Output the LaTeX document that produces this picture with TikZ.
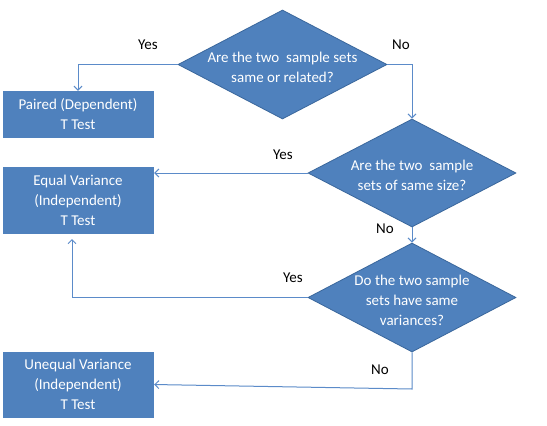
\documentclass[tikz,border=0pt]{standalone}
\usepackage{fontspec}
\setmainfont{Carlito}
\usetikzlibrary{shapes.geometric,arrows.meta}
\definecolor{boxfill}{HTML}{4F81BD}
\definecolor{boxline}{HTML}{3A679C}
\definecolor{conn}{HTML}{5B8BC9}
\tikzset{
  txt/.style={font=\fontsize{15}{20}\selectfont, text=white, align=center},
  resultbox/.style={txt, rectangle, fill=boxfill, draw=boxfill, minimum width=150pt, inner sep=0pt},
  question/.style={diamond, fill=boxfill, draw=boxline, line width=0.8pt, inner sep=0pt, minimum width=208pt, minimum height=108pt, label={[txt, yshift=-2.5pt]center:#1}},
  conn/.style={draw=conn, line width=1pt, -{Straight Barb[length=4pt,width=8pt,line width=1pt]}},
  lbl/.style={font=\fontsize{15}{20}\selectfont, text=black, inner sep=0pt}
}
\begin{document}
\begin{tikzpicture}[x=1pt,y=-1pt]
\useasboundingbox (0,0) rectangle (547,426);
\fill[white] (0,0) rectangle (547,426);
\node[question={Are the two~ sample sets\\same or related?}, minimum width=209pt, minimum height=109pt] (d1) at (282.5,64.5) {};
\node[question={Are the two~ sample\\sets of same size?}] (d2) at (412,173) {};
\node[question={Do the two sample\\sets have same\\variances?}, minimum height=109pt] (d3) at (412,297.5) {};
\node[resultbox, minimum height=46pt] (b1) at (78,114) {Paired (Dependent)\\T Test};
\node[resultbox, minimum height=66pt] (b2) at (78,200) {Equal Variance\\(Independent)\\T Test};
\node[resultbox, minimum height=65pt] (b3) at (78,384.5) {Unequal Variance\\(Independent)\\T Test};
\coordinate (b2in) at (72,233);
\coordinate (d3out) at (412,389);
\draw[conn] (d1.west) -| (b1.north);
\draw[conn] (d1.east) -| (d2.north);
\draw[conn, shorten >=1pt] (d2.west) -- (d2.west -| b2.east);
\draw[conn] (d2.south) -- (d3.north);
\draw[conn, shorten >=6pt] (d3.west) -| (b2in);
\draw[conn, shorten >=1pt] (d3.south) -- (d3out) -- (b3.east);
\node[lbl] (l1) at (148,45) {Yes};
\node[lbl] (l2) at (401,45) {No};
\node[lbl] (l3) at (283,155) {Yes};
\node[lbl] (l4) at (385,229) {No};
\node[lbl] (l5) at (293,278) {Yes};
\node[lbl] (l6) at (380,370) {No};
\end{tikzpicture}
\end{document}
